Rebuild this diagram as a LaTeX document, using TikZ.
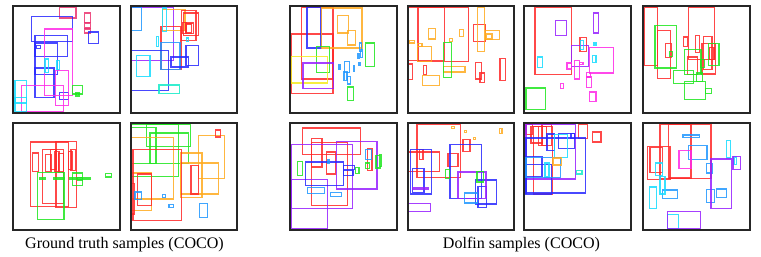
\documentclass[tikz,border=0pt]{standalone}
\usepackage{fontspec}
\setmainfont{Liberation Serif}
\usepackage{xcolor}
\usepackage{tikz}
\definecolor{bbred}{RGB}{255,40,40}
\definecolor{bbblue}{RGB}{40,40,255}
\definecolor{bbmag}{RGB}{255,40,230}
\definecolor{bbcyan}{RGB}{20,220,255}
\definecolor{bbsky}{RGB}{30,150,255}
\definecolor{bbgreen}{RGB}{30,230,30}
\definecolor{bborange}{RGB}{255,170,30}
\definecolor{bbpurple}{RGB}{150,30,255}
\definecolor{bbyellow}{RGB}{245,235,30}
\definecolor{bbcrimson}{RGB}{235,50,110}
\definecolor{bbteal}{RGB}{20,235,200}
\tikzset{
  frame/.style={draw=black!85, line width=1.8pt},
  box/.style={line width=1.6pt, draw opacity=0.85},
  panel/.style={shift={#1}, scale=1/3},
  caption/.style={font=\fontsize{16}{18}\selectfont, anchor=base, inner sep=0pt}
}

\begin{document}
\begin{tikzpicture}[x=0.035cm, y=-0.035cm]
    \useasboundingbox (0,0) rectangle (761,257);

    % Ground truth, top left
    \begin{scope}[panel={(5,3)}]
        \foreach \a/\b/\c/\d in {163/12/213/45, 238/30/256/58, 238/60/256/75, 238/78/256/90}
            \draw[box, bbcrimson] (\a,\b) rectangle (\c,\d);
        \foreach \a/\b/\c/\d in {80/40/202/115, 90/97/187/160, 94/127/107/136, 90/120/157/215, 90/195/147/283, 250/87/280/122, 163/268/190/290}
            \draw[box, bbblue] (\a,\b) rectangle (\c,\d);
        \foreach \a/\b/\c/\d in {118/78/202/277, 152/203/190/307, 50/247/176/327}
            \draw[box, bbmag] (\a,\b) rectangle (\c,\d);
        \foreach \a/\b/\c/\d in {30/232/64/327, 30/283/64/300, 120/168/130/208, 156/173/163/200}
            \draw[box, bbcyan] (\a,\b) rectangle (\c,\d);
        \foreach \a/\b/\c/\d in {203/247/233/273, 213/270/222/279}
            \draw[box, bbgreen] (\a,\b) rectangle (\c,\d);
        \draw[frame] (24,10) rectangle (345,330);
    \end{scope}

    % Ground truth, top right
    \begin{scope}[panel={(125,3)}]
        \draw[box, bbpurple] (20,12) rectangle (145,173);
        \draw[box, bborange] (113,20) rectangle (180,82);
        \foreach \a/\b/\c/\d in {170/22/213/112, 175/30/220/97, 182/60/205/92, 185/63/200/90, 172/58/183/92, 108/70/168/200}
            \draw[box, bbred] (\a,\b) rectangle (\c,\d);
        \foreach \a/\b/\c/\d in {20/12/50/82, 108/118/165/200}
            \draw[box, bbsky] (\a,\b) rectangle (\c,\d);
        \foreach \a/\b/\c/\d in {113/15/125/85, 94/100/100/130, 185/105/190/115, 35/157/75/220}
            \draw[box, bbcyan] (\a,\b) rectangle (\c,\d);
        \foreach \a/\b/\c/\d in {183/127/220/188, 138/162/190/192, 20/143/130/262}
            \draw[box, bbblue] (\a,\b) rectangle (\c,\d);
        \draw[box, bbteal] (102,246) rectangle (163,272);
        \draw[frame] (17,10) rectangle (335,330);
    \end{scope}

    % Dolfin, top row 1
    \begin{scope}[panel={(282,3)}]
        \foreach \a/\b/\c/\d in {58/12/153/228, 28/93/153/272}
            \draw[box, bbred] (\a,\b) rectangle (\c,\d);
        \draw[box, bbblue] (75,12) rectangle (117,135);
        \foreach \a/\b/\c/\d in {118/15/240/135, 167/37/199/90, 196/82/220/126}
            \draw[box, bborange] (\a,\b) rectangle (\c,\d);
        \foreach \a/\b/\c/\d in {103/130/142/208, 250/120/277/190, 196/252/214/292}
            \draw[box, bbgreen] (\a,\b) rectangle (\c,\d);
        \draw[box, bbyellow] (28,160) rectangle (136,240);
        \draw[box, bbpurple] (63,180) rectangle (154,257);
        \foreach \a/\b/\c/\d in {232/120/238/145, 236/140/241/164, 228/152/233/165, 231/178/236/186, 214/188/218/205, 171/185/175/198, 187/175/203/208, 186/205/195/232, 196/220/206/243}
            \draw[box, bbsky] (\a,\b) rectangle (\c,\d);
        \draw[frame] (24,10) rectangle (345,330);
    \end{scope}

    % Dolfin, top row 2
    \begin{scope}[panel={(402,3)}]
        \foreach \a/\b/\c/\d in {20/12/127/172, 48/12/200/176, 215/65/250/115, 20/183/31/230, 64/188/73/215, 220/178/238/228, 234/210/248/238, 294/166/310/232}
            \draw[box, bbred] (\a,\b) rectangle (\c,\d);
        \foreach \a/\b/\c/\d in {80/77/100/108, 172/80/184/100, 142/107/151/116, 22/112/37/120, 47/122/60/130, 46/130/88/175, 124/190/189/207, 226/12/247/145, 250/82/292/110, 252/93/270/108, 62/218/112/247}
            \draw[box, bborange] (\a,\b) rectangle (\c,\d);
        \draw[box, bbgreen] (124,118) rectangle (148,223);
        \draw[frame] (17,10) rectangle (335,330);
    \end{scope}

    % Dolfin, top row 3
    \begin{scope}[panel={(521,3)}]
        \foreach \a/\b/\c/\d in {42/12/151/215, 177/103/197/145}
            \draw[box, bbred] (\a,\b) rectangle (\c,\d);
        \foreach \a/\b/\c/\d in {104/52/136/97, 217/30/232/90, 151/127/203/190}
            \draw[box, bbpurple] (\a,\b) rectangle (\c,\d);
        \foreach \a/\b/\c/\d in {178/113/188/140, 219/118/225/128, 214/157/225/178, 49/162/65/193}
            \draw[box, bbcyan] (\a,\b) rectangle (\c,\d);
        \foreach \a/\b/\c/\d in {205/133/278/210, 138/180/152/198, 160/173/176/228, 176/178/186/184, 196/208/208/222, 196/222/212/253, 118/242/128/257, 205/267/225/295}
            \draw[box, bbmag] (\a,\b) rectangle (\c,\d);
        \draw[box, bbgreen] (15,255) rectangle (74,320);
        \draw[frame] (10,10) rectangle (330,330);
    \end{scope}

    % Dolfin, top row 4
    \begin{scope}[panel={(640,3)}]
        \foreach \a/\b/\c/\d in {12/12/53/188, 145/12/223/170, 53/82/92/227, 77/122/94/163, 130/102/142/130, 166/97/179/148, 190/100/216/200, 186/122/227/213, 208/133/222/170, 142/162/173/215}
            \draw[box, bbred] (\a,\b) rectangle (\c,\d);
        \foreach \a/\b/\c/\d in {45/67/109/195, 88/145/97/160, 205/122/237/187, 134/140/183/215, 182/170/193/193, 100/203/161/242, 170/210/187/235, 133/235/196/289, 196/257/214/271}
            \draw[box, bbgreen] (\a,\b) rectangle (\c,\d);
        \draw[frame] (10,10) rectangle (330,330);
    \end{scope}

    % Ground truth, bottom left
    \begin{scope}[panel={(5,118)}]
        \foreach \a/\b/\c/\d in {77/72/190/265, 153/70/214/268, 112/95/176/257, 82/105/100/160, 121/110/138/160, 136/95/153/155, 148/100/162/160, 160/107/176/162, 190/100/201/155, 198/95/212/157}
            \draw[box, bbred] (\a,\b) rectangle (\c,\d);
        \foreach \a/\b/\c/\d in {97/163/177/305, 202/165/232/202, 105/180/121/185, 147/180/163/185, 168/180/177/185, 195/180/257/185, 218/178/232/186, 302/167/319/177}
            \draw[box, bbgreen] (\a,\b) rectangle (\c,\d);
        \draw[frame] (24,15) rectangle (345,335);
    \end{scope}

    % Ground truth, bottom right
    \begin{scope}[panel={(125,118)}]
        \foreach \a/\b/\c/\d in {20/28/93/137, 64/18/196/85, 75/45/190/137, 20/18/160/175}
            \draw[box, bbgreen] (\a,\b) rectangle (\c,\d);
        \foreach \a/\b/\c/\d in {20/58/146/243, 166/105/231/238, 220/53/298/182, 166/135/281/228, 20/165/79/278}
            \draw[box, bborange] (\a,\b) rectangle (\c,\d);
        \foreach \a/\b/\c/\d in {24/95/170/307, 198/143/220/228, 37/168/80/263, 20/197/28/288, 272/36/287/57}
            \draw[box, bbred] (\a,\b) rectangle (\c,\d);
        \foreach \a/\b/\c/\d in {30/222/50/244, 112/230/122/238, 132/260/146/268, 223/256/247/298}
            \draw[box, bbsky] (\a,\b) rectangle (\c,\d);
        \draw[frame] (17,15) rectangle (335,335);
    \end{scope}

    % Dolfin, bottom row 1
    \begin{scope}[panel={(282,118)}]
        \foreach \a/\b/\c/\d in {62/30/235/110, 89/62/120/147, 88/73/196/262, 134/102/160/168, 257/92/270/157}
            \draw[box, bbred] (\a,\b) rectangle (\c,\d);
        \foreach \a/\b/\c/\d in {28/80/211/272, 163/70/285/213, 28/185/136/332}
            \draw[box, bbpurple] (\a,\b) rectangle (\c,\d);
        \foreach \a/\b/\c/\d in {70/132/184/202, 185/142/217/155, 185/158/213/172}
            \draw[box, bbblue] (\a,\b) rectangle (\c,\d);
        \foreach \a/\b/\c/\d in {76/208/127/226, 146/223/178/235, 250/95/268/125, 138/125/142/135}
            \draw[box, bbsky] (\a,\b) rectangle (\c,\d);
        \foreach \a/\b/\c/\d in {46/130/61/172, 220/148/231/167, 250/135/262/151, 282/112/296/150, 292/110/298/145}
            \draw[box, bbgreen] (\a,\b) rectangle (\c,\d);
        \draw[frame] (24,15) rectangle (345,335);
    \end{scope}

    % Dolfin, bottom row 2
    \begin{scope}[panel={(402,118)}]
        \foreach \a/\b/\c/\d in {45/18/175/178, 183/65/204/100, 52/95/63/125, 20/102/112/160, 138/107/168/145}
            \draw[box, bbred] (\a,\b) rectangle (\c,\d);
        \foreach \a/\b/\c/\d in {148/25/157/31, 187/37/193/43, 214/58/220/64, 292/32/300/47}
            \draw[box, bborange] (\a,\b) rectangle (\c,\d);
        \foreach \a/\b/\c/\d in {25/95/89/228, 31/152/66/223, 144/80/238/241, 220/186/283/258, 228/205/253/268}
            \draw[box, bbblue] (\a,\b) rectangle (\c,\d);
        \foreach \a/\b/\c/\d in {33/210/78/215, 168/162/252/241, 20/256/85/281}
            \draw[box, bbpurple] (\a,\b) rectangle (\c,\d);
        \foreach \a/\b/\c/\d in {130/155/142/182, 225/160/244/192}
            \draw[box, bbgreen] (\a,\b) rectangle (\c,\d);
        \draw[box, bbsky] (187,225) rectangle (227,255);
        \draw[frame] (17,15) rectangle (335,335);
    \end{scope}

    % Dolfin, bottom row 3
    \begin{scope}[panel={(521,118)}]
        \foreach \a/\b/\c/\d in {15/20/35/50, 30/25/65/75, 37/25/95/228, 53/25/77/82, 63/20/92/82, 172/20/200/62, 214/42/240/72}
            \draw[box, bbred] (\a,\b) rectangle (\c,\d);
        \draw[box, bbpurple] (15,20) rectangle (163,183);
        \foreach \a/\b/\c/\d in {78/48/101/97, 15/60/193/225, 113/47/161/92, 150/47/160/62, 15/115/63/175, 15/140/92/230}
            \draw[box, bbblue] (\a,\b) rectangle (\c,\d);
        \foreach \a/\b/\c/\d in {100/50/140/118, 72/135/84/177}
            \draw[box, bbcyan] (\a,\b) rectangle (\c,\d);
        \draw[box, bbsky] (15,118) rectangle (119,178);
        \draw[box, bborange] (96,120) rectangle (121,141);
        \draw[box, bbteal] (167,157) rectangle (183,168);
        \draw[frame] (10,15) rectangle (330,335);
    \end{scope}

    % Dolfin, bottom row 4
    \begin{scope}[panel={(640,118)}]
        \foreach \a/\b/\c/\d in {60/18/213/182, 85/18/153/180, 22/85/90/185, 30/88/67/163}
            \draw[box, bbred] (\a,\b) rectangle (\c,\d);
        \foreach \a/\b/\c/\d in {129/51/178/58, 145/82/201/125, 200/137/218/165, 67/216/112/241, 199/214/223/253, 229/213/260/238}
            \draw[box, bbsky] (\a,\b) rectangle (\c,\d);
        \foreach \a/\b/\c/\d in {259/68/272/120, 282/117/290/140, 47/135/67/172, 60/175/75/228, 28/207/50/271, 82/289/115/332}
            \draw[box, bbcyan] (\a,\b) rectangle (\c,\d);
        \draw[box, bbmag] (117,97) rectangle (153,152);
        \foreach \a/\b/\c/\d in {279/115/301/155, 213/123/275/271, 82/280/181/332}
            \draw[box, bbpurple] (\a,\b) rectangle (\c,\d);
        \draw[frame] (10,15) rectangle (330,335);
    \end{scope}

    % Captions
    \node[caption] (gtcap) at (124.5,248) {Ground truth samples (COCO)};
    \node[caption] (dfcap) at (521.5,248) {Dolfin samples (COCO)};
\end{tikzpicture}
\end{document}
